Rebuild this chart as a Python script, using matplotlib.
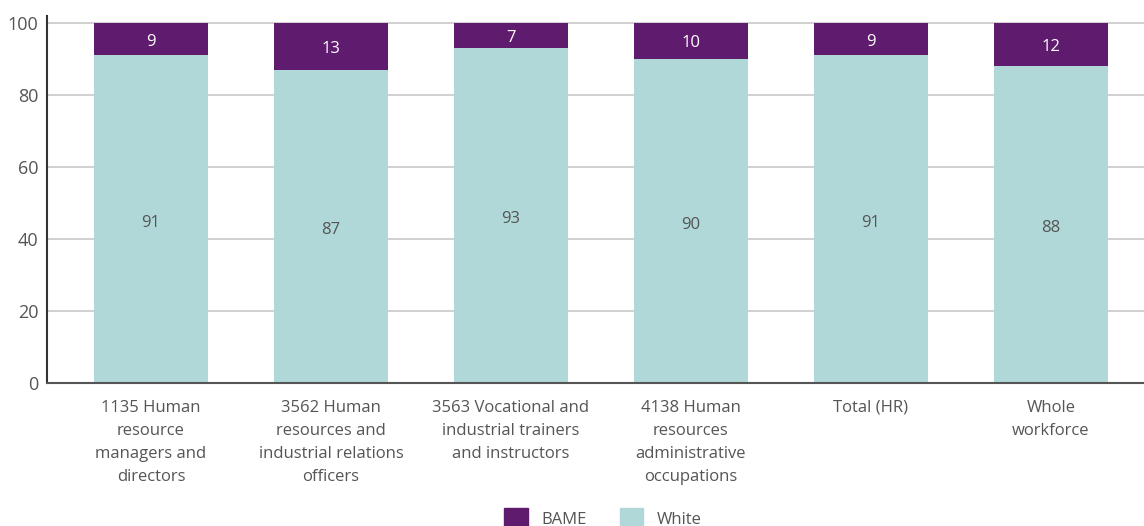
import numpy as np
import matplotlib
matplotlib.use("Agg")
import matplotlib.pyplot as plt
from matplotlib.patches import Patch

plt.rcParams['font.family'] = ['Open Sans', 'DejaVu Sans']

categories = [
    "1135 Human\nresource\nmanagers and\ndirectors",
    "3562 Human\nresources and\nindustrial relations\nofficers",
    "3563 Vocational and\nindustrial trainers\nand instructors",
    "4138 Human\nresources\nadministrative\noccupations",
    "Total (HR)",
    "Whole\nworkforce",
]
white = [91, 87, 93, 90, 91, 88]
bame = [9, 13, 7, 10, 9, 12]
yticks = [0, 20, 40, 60, 80, 100]

PURPLE = "#5f1c6f"
TEAL = "#b0d8d8"
TEXT = "#555555"

fig = plt.figure(figsize=(11.44, 5.26), dpi=100)
ax = fig.add_axes([0.041, 0.272, 0.959, 0.698])

x = np.arange(len(categories))
w = 0.63
ax.bar(x, white, width=w, color=TEAL, zorder=2)
ax.bar(x, bame, width=w, bottom=white, color=PURPLE, zorder=2)

for i in range(len(x)):
    ax.text(x[i], white[i] / 2 - 1, str(white[i]), ha='center', va='center',
            color=TEXT, fontsize=12)
    ax.text(x[i], white[i] + bame[i] / 2 - 0.7, str(bame[i]), ha='center', va='center',
            color='white', fontsize=12)

ax.set_xlim(-0.578, 5.517)
ax.set_ylim(0, 102)
ax.set_yticks(yticks)
ax.set_xticks(x)
ax.set_xticklabels(categories, fontsize=12, color=TEXT, linespacing=1.6, va='top')
ax.tick_params(axis='y', labelsize=13, labelcolor=TEXT, length=0, pad=6)
ax.tick_params(axis='x', length=0, pad=12)
ax.grid(axis='y', color='#c8c8c8', linewidth=1.2, zorder=0)

for s in ['top', 'right']:
    ax.spines[s].set_visible(False)
ax.spines['left'].set_color('#333333')
ax.spines['bottom'].set_color('#555555')
ax.spines['left'].set_linewidth(1.5)
ax.spines['bottom'].set_linewidth(1.5)

handles = [Patch(color=PURPLE, label='BAME'), Patch(color=TEAL, label='White')]
fig.legend(handles=handles, loc='center', bbox_to_anchor=(0.527, 0.015), ncol=2,
           frameon=False, fontsize=12, labelcolor=TEXT, handlelength=1.4,
           handleheight=1.4, columnspacing=2.0)

fig.savefig('out.png', dpi=100)
